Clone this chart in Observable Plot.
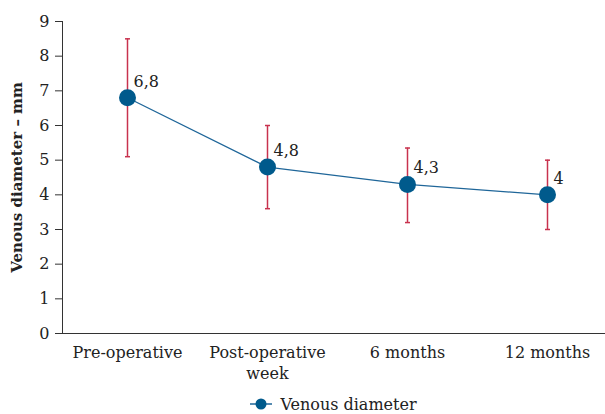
<!DOCTYPE html>
<html>
<head>
<meta charset="utf-8">
<script src="https://cdn.jsdelivr.net/npm/d3@7"></script>
<script src="https://cdn.jsdelivr.net/npm/@observablehq/plot@0.6"></script>
<style>
  html, body { margin: 0; padding: 0; background: #fff; }
  #chart { width: 605px; }
  .legend { font-family: "DejaVu Serif", serif; font-size: 16px; color: #222;
    display: flex; justify-content: center; align-items: center; padding-left: 62px; height: 28px; }
  .legend svg { margin-right: 8px; }
</style>
</head>
<body>
<div id="chart"></div>
<script>
const categories = ["Pre-operative", "Post-operative\nweek", "6 months", "12 months"];
const means = [6.8, 4.8, 4.3, 4.0];
const lower = [5.1, 3.6, 3.2, 3.0];
const upper = [8.5, 6.0, 5.35, 5.0];
const labels = ["6,8", "4,8", "4,3", "4"];
const yTicks = [0, 1, 2, 3, 4, 5, 6, 7, 8, 9];

const data = categories.map((c, i) => ({cat: c, mean: means[i], lo: lower[i], hi: upper[i], label: labels[i]}));

const lineColor = "#1f6699";
const dotColor = "#005a8c";
const errColor = "#c8324e";

const capSymbol = {draw(ctx) { ctx.moveTo(-2.5, 0); ctx.lineTo(2.5, 0); }};

const plot = Plot.plot({
  width: 605,
  height: 390,
  marginLeft: 62,
  marginRight: 0,
  marginTop: 21,
  marginBottom: 57,
  style: {fontFamily: "DejaVu Serif, serif", fontSize: "16px", color: "#222", background: "#fff"},
  x: {type: "point", domain: categories, range: [126, 547], padding: 0},
  y: {domain: [0, 9]},
  marks: [
    Plot.frame({anchor: "left", stroke: "#333"}),
    Plot.frame({anchor: "bottom", stroke: "#333"}),
    Plot.axisY({ticks: yTicks, tickSize: 7, tickPadding: 6, label: null, fontSize: 16, stroke: "#333"}),
    Plot.axisX({tickSize: 0, tickPadding: 10, label: null, fontSize: 16, lineHeight: 1.3}),
    Plot.text(["Venous diameter – mm"], {frameAnchor: "left", textAnchor: "middle", rotate: -90, dx: -45, fontWeight: "bold", fontSize: 15, fill: "#222"}),
    Plot.ruleX(data, {x: "cat", y1: "lo", y2: "hi", stroke: errColor, strokeWidth: 1.5}),
    Plot.dot(data, {x: "cat", y: "lo", symbol: capSymbol, r: 3, stroke: errColor, fill: "none", strokeWidth: 1.5}),
    Plot.dot(data, {x: "cat", y: "hi", symbol: capSymbol, r: 3, stroke: errColor, fill: "none", strokeWidth: 1.5}),
    Plot.line(data, {x: "cat", y: "mean", stroke: lineColor, strokeWidth: 1.3}),
    Plot.dot(data, {x: "cat", y: "mean", r: 8.5, fill: dotColor, stroke: "none"}),
    Plot.text(data, {x: "cat", y: "mean", text: "label", textAnchor: "start", lineAnchor: "bottom", dx: 6, dy: -11, fontSize: 16, fill: "#222"})
  ]
});
document.getElementById("chart").appendChild(plot);

const legend = document.createElement("div");
legend.className = "legend";
legend.innerHTML = `<svg width="22" height="14"><line x1="0" y1="7" x2="22" y2="7" stroke="${lineColor}" stroke-width="1.5"/><circle cx="11" cy="7" r="5.5" fill="${dotColor}"/></svg><span>Venous diameter</span>`;
document.getElementById("chart").appendChild(legend);
</script>
</body>
</html>
